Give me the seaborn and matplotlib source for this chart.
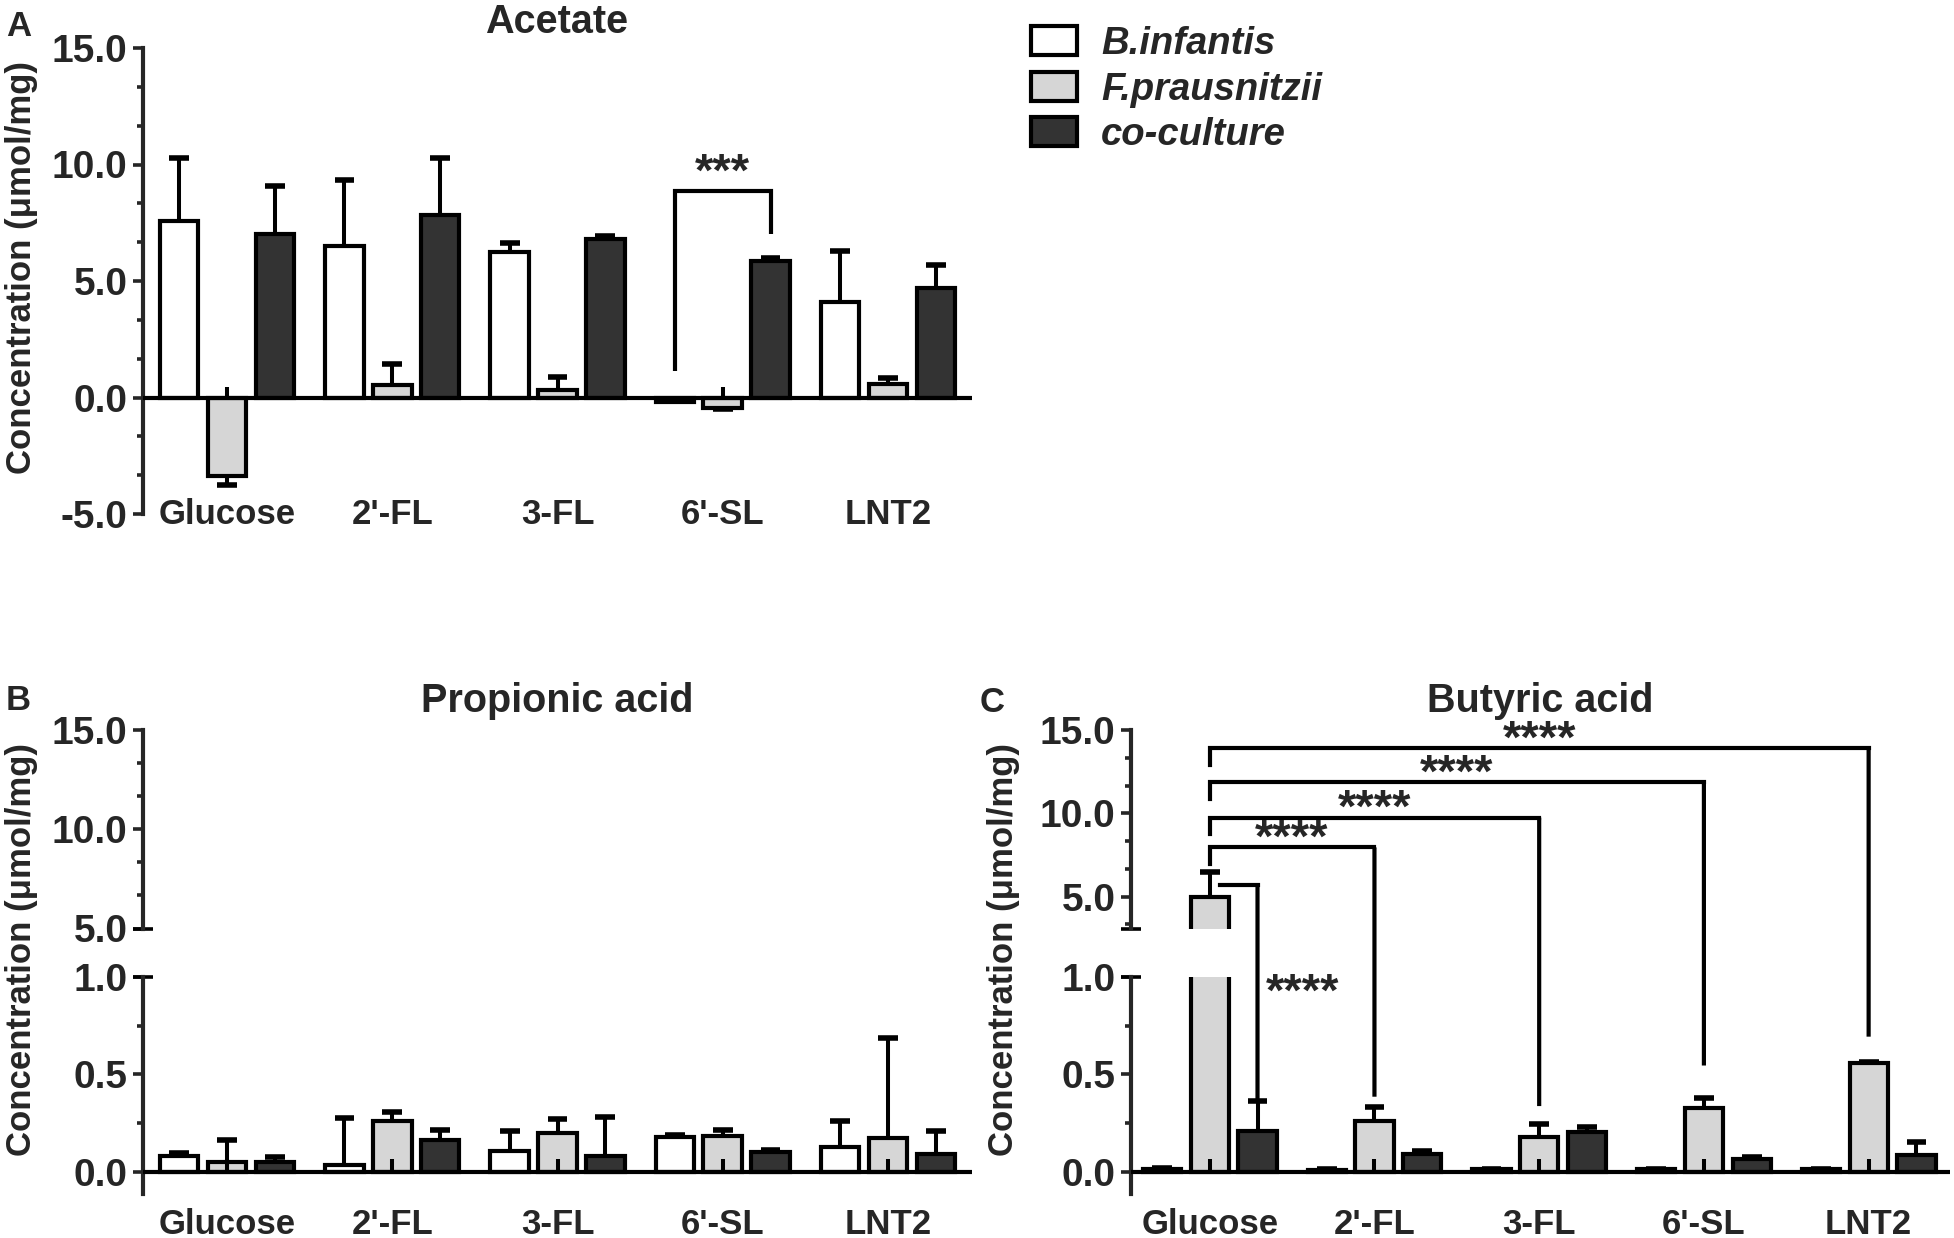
"""
SCFA production by B.infantis, F.prausnitzii and their co-culture on HMOs
"""

import numpy as np
import pandas as pd
import seaborn as sns
import matplotlib.pyplot as plt
from matplotlib.patches import Patch, ConnectionPatch
from matplotlib.ticker import AutoMinorLocator, FormatStrFormatter

# --- Data ---
sugars = ["Glucose", "2'-FL", "3-FL", "6'-SL", "LNT2"]
strains = ["B.infantis", "F.prausnitzii", "co-culture"]
colors = ["#ffffff", "#d6d6d6", "#333333"]

# Acetate (umol/mg), mean and SD
acetate_binf = [7.58, 6.50, 6.23, -0.20, 4.08]
acetate_binf_sd = [2.72, 2.85, 0.42, 0.00, 2.20]
acetate_fpra = [-3.38, 0.54, 0.31, -0.43, 0.58]
acetate_fpra_sd = [0.39, 0.88, 0.58, 0.05, 0.27]
acetate_cocu = [7.00, 7.85, 6.82, 5.85, 4.72]
acetate_cocu_sd = [2.08, 2.45, 0.13, 0.12, 0.97]

# Propionic acid
propionic_binf = [0.081, 0.038, 0.110, 0.180, 0.129]
propionic_binf_sd = [0.014, 0.237, 0.098, 0.010, 0.132]
propionic_fpra = [0.053, 0.261, 0.199, 0.182, 0.174]
propionic_fpra_sd = [0.110, 0.048, 0.071, 0.032, 0.514]
propionic_cocu = [0.053, 0.163, 0.081, 0.100, 0.091]
propionic_cocu_sd = [0.023, 0.051, 0.199, 0.014, 0.117]

# Butyric acid
butyric_binf = [0.016, 0.011, 0.015, 0.013, 0.013]
butyric_binf_sd = [0.004, 0.003, 0.002, 0.002, 0.002]
butyric_fpra = [4.95, 0.261, 0.180, 0.328, 0.559]
butyric_fpra_sd = [1.50, 0.072, 0.066, 0.052, 0.005]
butyric_cocu = [0.210, 0.091, 0.205, 0.068, 0.085]
butyric_cocu_sd = [0.155, 0.015, 0.028, 0.010, 0.067]

# significance brackets in panel C (Glucose F.prausnitzii vs. the others)
butyric_sig_line = [7.95, 9.74, 11.85, 13.9]
butyric_sig_end = [0.386, 0.338, 0.546, 0.694]
butyric_sig_label = "****"

# --- Style ---
sns.set_style("ticks")
plt.rcParams["font.family"] = ["Liberation Sans", "DejaVu Sans"]
plt.rcParams["font.weight"] = "bold"
plt.rcParams["axes.unicode_minus"] = False

W, H = 1954, 1238
LW = 3.0
STAR = 34
fig = plt.figure(figsize=(W / 100, H / 100), dpi=100)


def rect(left, top, right, bottom):
    return [left / W, 1 - bottom / H, (right - left) / W, (bottom - top) / H]


def make_df(binf, fpra, cocu):
    return pd.DataFrame({
        "sugar": sugars * 3,
        "strain": np.repeat(strains, len(sugars)),
        "value": binf + fpra + cocu,
    })


def bar_center(bar):
    return bar.get_x() + bar.get_width() / 2


def draw_bars(ax, means, sds, xlim=(-0.51, 4.51)):
    df = make_df(*means)
    sns.barplot(data=df, x="sugar", y="value", hue="strain", order=sugars,
                hue_order=strains, palette=colors, saturation=1,
                edgecolor="black", linewidth=LW, width=0.87, gap=0.2,
                errorbar=None, legend=False, ax=ax)
    # one-sided error bars, like GraphPad
    for cont, m_list, s_list in zip(ax.containers, means, sds):
        for bar, m, s in zip(cont, m_list, s_list):
            x = bar_center(bar)
            end = m + s if m >= 0 else m - s
            if s > 0:
                ax.vlines(x, m, end, color="black", lw=2.9, zorder=3)
                ax.hlines(end, x - 0.06, x + 0.06, color="black", lw=4.0, zorder=3)
    ax.set_xlim(*xlim)
    ax.set_xlabel("")
    ax.set_ylabel("")
    for side in ["top", "right", "bottom"]:
        ax.spines[side].set_visible(False)
    ax.spines["left"].set_linewidth(LW)
    ax.yaxis.set_major_formatter(FormatStrFormatter("%.1f"))
    ax.tick_params(axis="y", which="major", length=7.2, width=2.6, labelsize=28, pad=4)
    ax.tick_params(axis="y", which="minor", length=4.3, width=2.6)


def style_lower(ax, pad):
    ax.axhline(0, color="black", lw=LW, zorder=3)
    ax.tick_params(axis="x", length=0, labelsize=25, pad=pad)


def style_upper(ax):
    ax.tick_params(axis="x", length=0, labelbottom=False)


def break_mark(ax, y_axes):
    # short dash across the axis line where it is broken
    width_px = ax.get_position().width * W
    ax.plot([-10 / width_px, 10 / width_px], [y_axes, y_axes], transform=ax.transAxes,
            clip_on=False, color="black", lw=2.6, solid_capstyle="butt")


def gray_stubs(ax, height):
    # little stems visible at the foot of the F.prausnitzii bars
    for bar in ax.containers[1]:
        ax.vlines(bar_center(bar), 0, height, color="black", lw=2.9, zorder=3)


def link(ax_top, xy_top, ax_bot, xy_bot):
    # straight line that runs across the gap of a broken axis
    fig.add_artist(ConnectionPatch(xyA=xy_top, coordsA=ax_top.transData,
                                   xyB=xy_bot, coordsB=ax_bot.transData,
                                   color="black", lw=LW, capstyle="butt"))


# --- Panel A: Acetate ---
axA = fig.add_axes(rect(143, 48, 972, 514))
draw_bars(axA, [acetate_binf, acetate_fpra, acetate_cocu],
          [acetate_binf_sd, acetate_fpra_sd, acetate_cocu_sd])
axA.set_ylim(-5, 15)
axA.set_yticks([-5, 0, 5, 10, 15])
axA.yaxis.set_minor_locator(AutoMinorLocator(3))
style_lower(axA, -11.8)
for bar, m in zip(axA.containers[1], acetate_fpra):
    if m < 0:
        axA.vlines(bar_center(bar), 0, 0.46, color="black", lw=2.9, zorder=3)

xb = bar_center(axA.containers[0][3])
xc = bar_center(axA.containers[2][3])
axA.plot([xb, xb, xc, xc], [1.13, 8.85, 8.85, 7.0], color="black", lw=LW,
         solid_capstyle="butt", solid_joinstyle="miter")
axA.text((xb + xc) / 2, 9.1, "***", ha="center", va="baseline", fontsize=STAR)

# --- Panel B: Propionic acid (broken axis) ---
prop_means = [propionic_binf, propionic_fpra, propionic_cocu]
prop_sds = [propionic_binf_sd, propionic_fpra_sd, propionic_cocu_sd]
axB_up = fig.add_axes(rect(143, 730, 972, 928.5))
axB_lo = fig.add_axes(rect(143, 977, 972, 1194))
draw_bars(axB_up, prop_means, prop_sds)
draw_bars(axB_lo, prop_means, prop_sds)
axB_up.set_ylim(5, 15)
axB_up.set_yticks([5, 10, 15])
axB_up.yaxis.set_minor_locator(AutoMinorLocator(3))
style_upper(axB_up)
axB_lo.set_ylim(-0.113, 1.0)
axB_lo.set_yticks([0, 0.5, 1.0])
axB_lo.yaxis.set_minor_locator(AutoMinorLocator(2))
style_lower(axB_lo, 9.8)
gray_stubs(axB_lo, 0.066)
break_mark(axB_up, 0)
break_mark(axB_lo, 1)

# --- Panel C: Butyric acid (broken axis) ---
but_means = [butyric_binf, butyric_fpra, butyric_cocu]
but_sds = [butyric_binf_sd, butyric_fpra_sd, butyric_cocu_sd]
c_xlim = (-0.478, 4.494)
axC_up = fig.add_axes(rect(1131, 730, 1950, 928.5))
axC_lo = fig.add_axes(rect(1131, 977, 1950, 1194))
draw_bars(axC_up, but_means, but_sds, c_xlim)
draw_bars(axC_lo, but_means, but_sds, c_xlim)
axC_up.set_ylim(3.08, 15)
axC_up.set_yticks([5, 10, 15])
axC_up.yaxis.set_minor_locator(AutoMinorLocator(3))
style_upper(axC_up)
axC_lo.set_ylim(-0.113, 1.0)
axC_lo.set_yticks([0, 0.5, 1.0])
axC_lo.yaxis.set_minor_locator(AutoMinorLocator(2))
style_lower(axC_lo, 9.8)
gray_stubs(axC_lo, 0.066)
break_mark(axC_up, 0)
break_mark(axC_lo, 1)

f_bars = axC_up.containers[1]
x_ref = bar_center(f_bars[0])
for k, (y_line, y_end) in enumerate(zip(butyric_sig_line, butyric_sig_end), start=1):
    xk = bar_center(f_bars[k])
    axC_up.plot([x_ref, x_ref, xk], [y_line - 1.0, y_line, y_line], color="black",
                lw=LW, solid_capstyle="projecting", solid_joinstyle="miter")
    link(axC_up, (xk, y_line), axC_lo, (xk, y_end))
    axC_up.text((x_ref + xk) / 2, y_line - 0.25, butyric_sig_label,
                ha="center", va="baseline", fontsize=STAR)

# Glucose: F.prausnitzii vs co-culture
x_co = bar_center(axC_up.containers[2][0])
axC_up.plot([x_ref + 0.06, x_co], [5.67, 5.67], color="black", lw=LW,
            solid_capstyle="projecting")
link(axC_up, (x_co, 5.67), axC_lo, (x_co, butyric_cocu[0] + butyric_cocu_sd[0]))
axC_lo.text(x_co + 0.05, 0.855, butyric_sig_label, ha="left", va="baseline", fontsize=STAR)

# --- Titles, panel letters, axis labels ---
fig.text(557 / W, 1 - 33 / H, "Acetate", ha="center", va="baseline", fontsize=28.5)
fig.text(557 / W, 1 - 712 / H, "Propionic acid", ha="center", va="baseline", fontsize=28.5)
fig.text(1540 / W, 1 - 712 / H, "Butyric acid", ha="center", va="baseline", fontsize=28.5)
fig.text(6 / W, 1 - 36 / H, "A", ha="left", va="baseline", fontsize=25)
fig.text(6 / W, 1 - 710 / H, "B", ha="left", va="baseline", fontsize=25)
fig.text(980 / W, 1 - 712 / H, "C", ha="left", va="baseline", fontsize=25)

ylab = "Concentration (\u03bcmol/mg)"
fig.text(22 / W, 1 - 267 / H, ylab, rotation=90, ha="center", va="center", fontsize=25)
fig.text(22 / W, 1 - 950 / H, ylab, rotation=90, ha="center", va="center", fontsize=25)
fig.text(1004 / W, 1 - 950 / H, ylab, rotation=90, ha="center", va="center", fontsize=25)

# --- Legend ---
handles = [Patch(facecolor=c, edgecolor="black", linewidth=3) for c in colors]
fig.legend(handles, strains, loc="upper left", bbox_to_anchor=(1031 / W, 1 - 26 / H),
           frameon=False, prop={"style": "italic", "weight": "bold", "size": 27.5},
           handlelength=1.2, handleheight=0.79, handletextpad=0.63,
           labelspacing=0.25, borderpad=0, borderaxespad=0)

fig.savefig("out.png", dpi=100)
